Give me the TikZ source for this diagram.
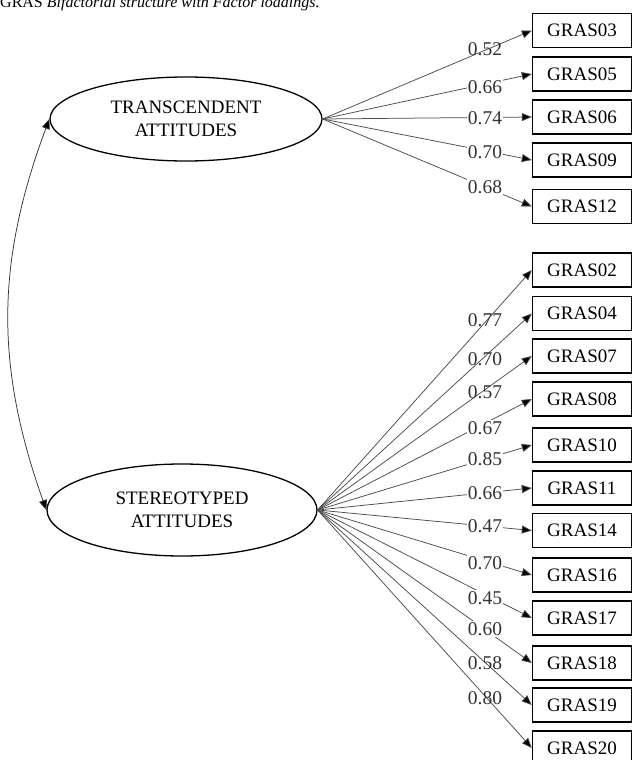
\documentclass[tikz,border=0pt]{standalone}
\usepackage{fontspec}
\setmainfont{Liberation Serif}
\usetikzlibrary{arrows.meta,shapes.geometric}
\begin{document}
\begin{tikzpicture}[x=1pt,y=1pt,
  obs/.style={draw,line width=1.4pt,minimum width=99pt,minimum height=34pt,inner sep=0pt,font=\fontsize{19}{23}\selectfont},
  lat/.style={draw,ellipse,line width=1.3pt,inner sep=0pt,align=center,font=\fontsize{19}{23}\selectfont},
  path/.style={draw=black!70,line width=0.75pt,-{Triangle[length=10pt,width=8pt,fill=black]}},
  lab/.style={font=\fontsize{19.5}{20}\selectfont,inner sep=1pt,text=black!80},
  labw/.style={lab,fill=white}]
\useasboundingbox (0,0) rectangle (633,-760);
\node[anchor=base west,inner sep=0pt,font=\fontsize{16}{17}\selectfont] (cap) at (0,-8) {GRAS \textit{Bifactorial structure with Factor loadings.}};
\node[lat,minimum width=272pt,minimum height=84pt] (T) at (186,-119) {TRANSCENDENT\\ATTITUDES};
\node[lat,minimum width=270pt,minimum height=92pt] (S) at (182,-510) {STEREOTYPED\\ATTITUDES};
\draw[black!80,line width=0.75pt,{Triangle[length=10pt,width=8pt,fill=black]}-{Triangle[length=10pt,width=8pt,fill=black]}] (T.west) to[bend right=20] (S.west);
% top group
\foreach \n/\y in {03/30.5,05/74,06/117,09/160,12/206.5}{
  \node[obs] (b\n) at (582,-\y) {GRAS\n};
  \draw[path] (T.east) -- (b\n.west);
}
\foreach \n/\y in {02/270,04/313.5,07/356,08/399,10/445,11/488,14/530.5,16/575,17/618,18/663,19/705,20/748}{
  \node[obs] (b\n) at (582,-\y) {GRAS\n};
  \draw[path] (S.east) -- (b\n.west);
}
% loadings
\node[lab] (l03) at (485,-49) {0.52};
\node[labw] (l05) at (485,-87) {0.66};
\node[labw] (l06) at (485,-118) {0.74};
\node[labw] (l09) at (485,-152) {0.70};
\node[labw] (l12) at (485,-187) {0.68};
\node[lab] (l02) at (485,-320) {0.77};
\node[lab] (l04) at (485,-359) {0.70};
\node[lab] (l07) at (485,-392) {0.57};
\node[labw] (l08) at (485,-428) {0.67};
\node[labw] (l10) at (485,-459) {0.85};
\node[labw] (l11) at (485,-493) {0.66};
\node[labw] (l14) at (485,-526) {0.47};
\node[labw] (l16) at (485,-563) {0.70};
\node[labw] (l17) at (485,-598) {0.45};
\node[labw] (l18) at (485,-629) {0.60};
\node[lab] (l19) at (485,-663) {0.58};
\node[lab] (l20) at (485,-698) {0.80};
\end{tikzpicture}
\end{document}
